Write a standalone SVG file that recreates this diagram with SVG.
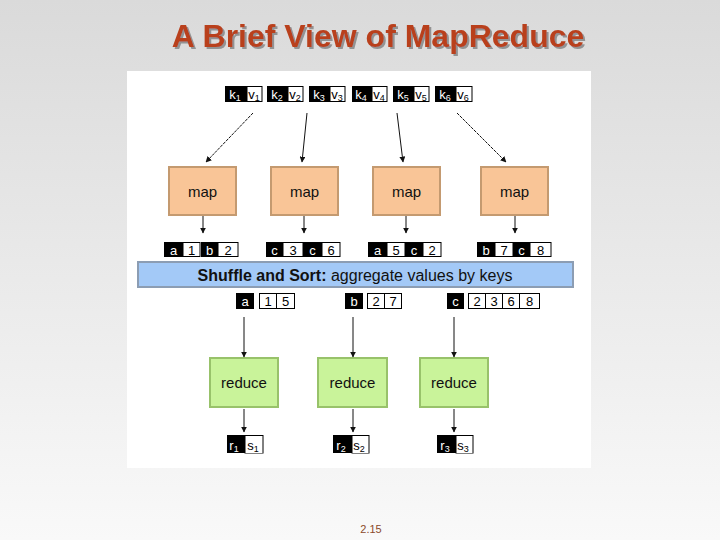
<svg xmlns="http://www.w3.org/2000/svg" width="720" height="540" viewBox="0 0 720 540">
<defs>
<linearGradient id="bg" x1="0" y1="0" x2="0" y2="1">
<stop offset="0" stop-color="#dadada"/>
<stop offset="1" stop-color="#f9f9f9"/>
</linearGradient>
<filter id="sh" x="-5%" y="-20%" width="110%" height="150%">
<feDropShadow dx="2" dy="2" stdDeviation="0.6" flood-color="#8a8a8a" flood-opacity="0.9"/>
</filter>
<marker id="ah" viewBox="0 0 10 10" refX="9" refY="5" markerWidth="6" markerHeight="6" orient="auto" markerUnits="userSpaceOnUse">
<path d="M0,0 L10,5 L0,10 z" fill="#111"/>
</marker>
</defs>
<style>
.t{font-family:"Liberation Sans",Arial,sans-serif}
.k{fill:#000}
.v{fill:#fff;stroke:#000;stroke-width:1}
.kt{font-family:"Liberation Sans",Arial,sans-serif;font-size:13px;fill:#fff;text-anchor:middle}
.vt{font-family:"Liberation Sans",Arial,sans-serif;font-size:13px;fill:#000;text-anchor:middle}
.sub{font-size:9px}
.map rect{fill:#f9c597;stroke:#c49a70;stroke-width:2}
.red rect{fill:#c9f39a;stroke:#98c26a;stroke-width:2}
.lbl{font-family:"Liberation Sans",Arial,sans-serif;font-size:15px;fill:#111;text-anchor:middle}
.con line{stroke:#111;stroke-width:1;marker-end:url(#ah)}
</style>
<rect x="0" y="0" width="720" height="540" fill="url(#bg)"/>
<text x="378" y="47" class="t" font-size="32" font-weight="bold" fill="#b9401c" text-anchor="middle" filter="url(#sh)">A Brief View of MapReduce</text>
<rect x="127" y="71" width="464" height="397" fill="#fff"/>

<!-- input pairs -->
<g id="in1"><rect class="k" x="225" y="86" width="22" height="16"/><rect class="v" x="247" y="86.5" width="15" height="15"/><text class="kt" x="235" y="99">k<tspan class="sub" dy="2">1</tspan></text><text class="vt" x="254" y="99">v<tspan class="sub" dy="2">1</tspan></text></g>
<g id="in2"><rect class="k" x="267" y="86" width="21" height="16"/><rect class="v" x="288" y="86.5" width="15" height="15"/><text class="kt" x="277" y="99">k<tspan class="sub" dy="2">2</tspan></text><text class="vt" x="295" y="99">v<tspan class="sub" dy="2">2</tspan></text></g>
<g id="in3"><rect class="k" x="309" y="86" width="21" height="16"/><rect class="v" x="330" y="86.5" width="15" height="15"/><text class="kt" x="319" y="99">k<tspan class="sub" dy="2">3</tspan></text><text class="vt" x="337" y="99">v<tspan class="sub" dy="2">3</tspan></text></g>
<g id="in4"><rect class="k" x="352" y="86" width="20" height="16"/><rect class="v" x="372" y="86.5" width="15" height="15"/><text class="kt" x="361" y="99">k<tspan class="sub" dy="2">4</tspan></text><text class="vt" x="379" y="99">v<tspan class="sub" dy="2">4</tspan></text></g>
<g id="in5"><rect class="k" x="393" y="86" width="21" height="16"/><rect class="v" x="414" y="86.5" width="15" height="15"/><text class="kt" x="403" y="99">k<tspan class="sub" dy="2">5</tspan></text><text class="vt" x="421" y="99">v<tspan class="sub" dy="2">5</tspan></text></g>
<g id="in6"><rect class="k" x="435" y="86" width="21" height="16"/><rect class="v" x="456" y="86.5" width="16" height="15"/><text class="kt" x="445" y="99">k<tspan class="sub" dy="2">6</tspan></text><text class="vt" x="463" y="99">v<tspan class="sub" dy="2">6</tspan></text></g>

<!-- map nodes -->
<g id="map1" class="map"><rect x="169" y="167" width="67" height="48"/><text class="lbl" x="202.5" y="197">map</text></g>
<g id="map2" class="map"><rect x="271" y="167" width="67" height="48"/><text class="lbl" x="304.5" y="197">map</text></g>
<g id="map3" class="map"><rect x="373" y="167" width="67" height="48"/><text class="lbl" x="406.5" y="197">map</text></g>
<g id="map4" class="map"><rect x="481" y="167" width="67" height="48"/><text class="lbl" x="514.5" y="197">map</text></g>

<!-- intermediate pairs -->
<g id="mid1"><rect class="k" x="164" y="242" width="19" height="15"/><rect class="v" x="183" y="242.5" width="17" height="14"/><rect class="k" x="201" y="242" width="17" height="15"/><rect class="v" x="218" y="242.5" width="20" height="14"/>
<text class="kt" x="173.5" y="254.5">a</text><text class="vt" x="191.5" y="254.5">1</text><text class="kt" x="209.5" y="254.5">b</text><text class="vt" x="228" y="254.5">2</text></g>
<g id="mid2"><rect class="k" x="266" y="242" width="17" height="15"/><rect class="v" x="283" y="242.5" width="20" height="14"/><rect class="k" x="303" y="242" width="19" height="15"/><rect class="v" x="322" y="242.5" width="18" height="14"/>
<text class="kt" x="274.5" y="254.5">c</text><text class="vt" x="293" y="254.5">3</text><text class="kt" x="312.5" y="254.5">c</text><text class="vt" x="331" y="254.5">6</text></g>
<g id="mid3"><rect class="k" x="368" y="242" width="19" height="15"/><rect class="v" x="387" y="242.5" width="18" height="14"/><rect class="k" x="405" y="242" width="18" height="15"/><rect class="v" x="423" y="242.5" width="18" height="14"/>
<text class="kt" x="377.5" y="254.5">a</text><text class="vt" x="396" y="254.5">5</text><text class="kt" x="414" y="254.5">c</text><text class="vt" x="432" y="254.5">2</text></g>
<g id="mid4"><rect class="k" x="477" y="242" width="18" height="15"/><rect class="v" x="495" y="242.5" width="18" height="14"/><rect class="k" x="513" y="242" width="17" height="15"/><rect class="v" x="530" y="242.5" width="21" height="14"/>
<text class="kt" x="486" y="254.5">b</text><text class="vt" x="504" y="254.5">7</text><text class="kt" x="521.5" y="254.5">c</text><text class="vt" x="540.5" y="254.5">8</text></g>

<!-- shuffle bar -->
<g id="shuffle"><rect x="138" y="262" width="435" height="25" fill="#a3c9f7" stroke="#8c9db3" stroke-width="2"/>
<text class="t" x="355" y="281" font-size="16" fill="#111" text-anchor="middle"><tspan font-weight="bold">Shuffle and Sort:</tspan> aggregate values by keys</text></g>

<!-- grouped -->
<g id="grp_a"><rect class="k" x="236" y="293" width="18" height="16"/><rect class="v" x="259.5" y="293.5" width="17" height="15"/><rect class="v" x="276.5" y="293.5" width="18" height="15"/>
<text class="kt" x="245" y="306">a</text><text class="vt" x="268" y="306">1</text><text class="vt" x="285.5" y="306">5</text></g>
<g id="grp_b"><rect class="k" x="345" y="293" width="18" height="16"/><rect class="v" x="367.5" y="293.5" width="17" height="15"/><rect class="v" x="384.5" y="293.5" width="17" height="15"/>
<text class="kt" x="354" y="306">b</text><text class="vt" x="376" y="306">2</text><text class="vt" x="393" y="306">7</text></g>
<g id="grp_c"><rect class="k" x="447" y="293" width="17" height="16"/><rect class="v" x="468.5" y="293.5" width="17" height="15"/><rect class="v" x="485.5" y="293.5" width="17" height="15"/><rect class="v" x="502.5" y="293.5" width="17" height="15"/><rect class="v" x="519.5" y="293.5" width="20" height="15"/>
<text class="kt" x="455.5" y="306">c</text><text class="vt" x="477" y="306">2</text><text class="vt" x="494" y="306">3</text><text class="vt" x="511" y="306">6</text><text class="vt" x="529.5" y="306">8</text></g>

<!-- reduce nodes -->
<g id="reduce1" class="red"><rect x="210" y="358" width="68" height="49"/><text class="lbl" x="244" y="388">reduce</text></g>
<g id="reduce2" class="red"><rect x="318" y="358" width="69" height="49"/><text class="lbl" x="352.5" y="388">reduce</text></g>
<g id="reduce3" class="red"><rect x="420" y="358" width="68" height="49"/><text class="lbl" x="454" y="388">reduce</text></g>

<!-- outputs -->
<g id="out1"><rect class="k" x="227" y="435" width="18" height="18"/><rect class="v" x="245" y="435.5" width="18" height="18"/><text class="kt" x="234" y="450">r<tspan class="sub" dy="2">1</tspan></text><text class="vt" x="253" y="450">s<tspan class="sub" dy="2">1</tspan></text></g>
<g id="out2"><rect class="k" x="333" y="435" width="19" height="18"/><rect class="v" x="352" y="435.5" width="17" height="18"/><text class="kt" x="341" y="450">r<tspan class="sub" dy="2">2</tspan></text><text class="vt" x="359" y="450">s<tspan class="sub" dy="2">2</tspan></text></g>
<g id="out3"><rect class="k" x="437" y="435" width="19" height="18"/><rect class="v" x="456" y="435.5" width="17" height="18"/><text class="kt" x="445" y="450">r<tspan class="sub" dy="2">3</tspan></text><text class="vt" x="463" y="450">s<tspan class="sub" dy="2">3</tspan></text></g>
<rect x="220" y="453.5" width="260" height="14" fill="#fff"/>

<!-- connectors -->
<g id="connectors" class="con">
<line x1="253" y1="113" x2="206" y2="162" stroke-dasharray="3,1"/>
<line x1="307" y1="113" x2="302" y2="162"/>
<line x1="397" y1="113" x2="403" y2="162"/>
<line x1="457" y1="113" x2="506" y2="162" stroke-dasharray="3,1"/>
<line x1="203" y1="216" x2="203" y2="233"/>
<line x1="304" y1="216" x2="304" y2="233"/>
<line x1="406" y1="216" x2="406" y2="233"/>
<line x1="515" y1="216" x2="515" y2="233"/>
<line x1="244" y1="317" x2="244" y2="357"/>
<line x1="353" y1="317" x2="353" y2="357"/>
<line x1="454" y1="317" x2="454" y2="357"/>
<line x1="244" y1="409" x2="244" y2="432"/>
<line x1="353" y1="409" x2="353" y2="432"/>
<line x1="454" y1="409" x2="454" y2="432"/>
</g>

<text class="t" x="371" y="533" font-size="11" fill="#8b4a2b" text-anchor="middle">2.15</text>
</svg>
